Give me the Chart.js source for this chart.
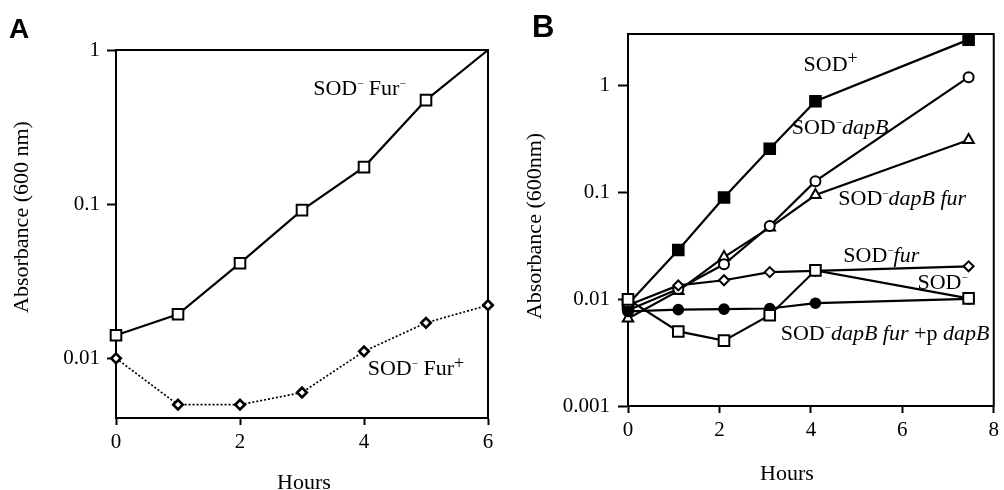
<!DOCTYPE html>
<html><head><meta charset="utf-8">
<script src="https://cdn.jsdelivr.net/npm/chart.js@4.4.0/dist/chart.umd.min.js"></script>
<style>
html,body{margin:0;padding:0;background:#fff;}
#wrap{position:relative;width:1004px;height:490px;overflow:hidden;background:#fff;}
canvas{position:absolute;top:0;}
</style></head><body>
<div id="wrap">
<canvas id="cA" width="502" height="490" style="left:0px"></canvas>
<canvas id="cB" width="502" height="490" style="left:502px"></canvas>
</div>
<script>
// ---------- Panel A data ----------
const hoursA = [0, 1, 2, 3, 4, 5, 6];
const sodFurMinus = [0.0141, 0.0193, 0.0414, 0.0914, 0.174, 0.473, 1.0];
const sodFurPlus = [0.0100, 0.0050, 0.0050, 0.0060, 0.0111, 0.0170, 0.0221];
const xTicksA = [0, 2, 4, 6];
const yTicksA = [0.01, 0.1, 1];

// ---------- Panel B data ----------
const hoursB = [0, 1.1, 2.1, 3.1, 4.1, 7.45];
const sodPlus = [0.009, 0.029, 0.090, 0.258, 0.72, 2.72];
const sodDapB = [0.0079, 0.0125, 0.0213, 0.0487, 0.128, 1.21];
const sodDapBFur = [0.0066, 0.0120, 0.0249, 0.047, 0.095, 0.312];
const sodFur = [0.0088, 0.0135, 0.0151, 0.0180, 0.0185, 0.0204];
const sodMinus = [0.0100, 0.0050, 0.0041, 0.0071, 0.0187, 0.0102];
const sodDapBFurP = [0.0077, 0.0080, 0.0081, 0.0082, 0.0092, 0.0101];
const xTicksB = [0, 2, 4, 6, 8];
const yTicksB = [0.001, 0.01, 0.1, 1];

const SERIF = '"Liberation Serif", "Times New Roman", serif';
const SANS = '"Liberation Sans", Arial, sans-serif';

function pts(xs, ys) { return xs.map((x, i) => ({x: x, y: ys[i]})); }

function richText(ctx, x, y, segs, size) {
  let cx = x;
  for (const s of segs) {
    const fs = s.sup ? Math.round(size * (s.k || 0.68)) : size;
    ctx.font = (s.it ? 'italic ' : '') + fs + 'px ' + SERIF;
    const dy = s.sup ? -size * (s.up || 0.36) : 0;
    ctx.fillText(s.t, cx, y + dy);
    cx += ctx.measureText(s.t).width;
  }
}

const decor = {
  id: 'decor',
  beforeDatasetsDraw(chart, args, o) {
    const {ctx, chartArea: a} = chart;
    ctx.save();
    ctx.strokeStyle = '#000';
    ctx.lineWidth = 2;
    ctx.beginPath();
    ctx.moveTo(a.left - 1, a.top);
    ctx.lineTo(a.right, a.top);
    ctx.lineTo(a.right, a.bottom + 1);
    ctx.stroke();
    ctx.restore();
  },
  afterDraw(chart, args, o) {
    const {ctx, scales} = chart;
    ctx.save();
    ctx.fillStyle = '#000';
    ctx.textBaseline = 'alphabetic';
    ctx.textAlign = 'left';
    for (const L of o.labels) {
      richText(ctx, scales.x.getPixelForValue(L.x), scales.y.getPixelForValue(L.y), L.segs, 22);
    }
    ctx.font = 'bold ' + o.letterSize + 'px ' + SANS;
    ctx.fillText(o.letter, o.letterX, o.letterY);
    ctx.font = '22px ' + SERIF;
    ctx.textAlign = 'center';
    ctx.fillText(o.xTitle, o.xTitleX, o.xTitleY);
    ctx.translate(o.yTitleX, o.yTitleY);
    ctx.rotate(-Math.PI / 2);
    ctx.fillText(o.yTitle, 0, 0);
    ctx.restore();
  }
};

function makeChart(id, datasets, cfg) {
  return new Chart(document.getElementById(id), {
    type: 'line',
    data: {datasets: datasets},
    plugins: [decor],
    options: {
      responsive: false,
      animation: false,
      events: [],
      layout: {padding: {left: 0, top: cfg.top, right: cfg.right, bottom: 0}},
      elements: {line: {tension: 0}},
      plugins: {legend: {display: false}, tooltip: {enabled: false}, decor: cfg.decor},
      scales: {
        x: {
          type: 'linear', min: cfg.xMin, max: cfg.xMax,
          afterBuildTicks: s => { s.ticks = cfg.xTicks.map(v => ({value: v})); },
          afterFit: s => { s.height = cfg.xHeight; },
          ticks: {font: {family: SERIF, size: 21}, color: '#000', padding: 5, maxRotation: 0},
          grid: {display: true, drawOnChartArea: false, drawTicks: true, tickLength: 7, tickColor: '#000', tickWidth: 2},
          border: {display: true, color: '#000', width: 2}
        },
        y: {
          type: 'logarithmic', min: cfg.yMin, max: cfg.yMax,
          afterBuildTicks: s => { s.ticks = cfg.yTicks.map(v => ({value: v})); },
          afterFit: s => { s.width = cfg.yWidth; },
          ticks: {font: {family: SERIF, size: 21}, color: '#000', padding: cfg.yPad, callback: v => String(v)},
          grid: {display: true, drawOnChartArea: false, drawTicks: true, tickLength: cfg.yTickLen, tickColor: '#000', tickWidth: 2},
          border: {display: true, color: '#000', width: 2}
        }
      }
    }
  });
}

const minus = {t: '\u2212', sup: true, k: 0.5, up: 0.38};
const plus = {t: '+', sup: true, k: 0.8, up: 0.3};

makeChart('cA', [
  {data: pts(hoursA, sodFurMinus), borderColor: '#000', borderWidth: 2.2, pointStyle: 'rect',
   pointRadius: [7.5, 7.5, 7.5, 7.5, 7.5, 7.5, 0], pointBackgroundColor: '#fff', pointBorderColor: '#000', pointBorderWidth: 2, clip: false},
  {data: pts(hoursA, sodFurPlus), borderColor: '#000', borderWidth: 1.7, borderDash: [2, 2], pointStyle: 'rectRot',
   pointRadius: 4.8, pointBackgroundColor: '#fff', pointBorderColor: '#000', pointBorderWidth: 2.6, clip: false}
], {
  top: 50, right: 14, xHeight: 72, yWidth: 116, yPad: 7, yTickLen: 9,
  xMin: 0, xMax: 6, xTicks: xTicksA, yMin: 0.0041, yMax: 1, yTicks: yTicksA,
  decor: {
    letter: 'A', letterSize: 28, letterX: 9, letterY: 38,
    xTitle: 'Hours', xTitleX: 304, xTitleY: 489,
    yTitle: 'Absorbance (600 nm)', yTitleX: 28, yTitleY: 217,
    labels: [
      {x: 3.18, y: 0.51, segs: [{t: 'SOD'}, minus, {t: ' Fur'}, minus]},
      {x: 4.06, y: 0.00776, segs: [{t: 'SOD'}, minus, {t: ' Fur'}, plus]}
    ]
  }
});

const open = {pointBackgroundColor: '#fff', pointBorderColor: '#000', pointBorderWidth: 2, borderColor: '#000', borderWidth: 2.2, clip: false};
const filled = {pointBackgroundColor: '#000', pointBorderColor: '#000', pointBorderWidth: 2, borderColor: '#000', borderWidth: 2.2, clip: false};

makeChart('cB', [
  Object.assign({data: pts(hoursB, sodMinus), pointStyle: 'rect', pointRadius: 7.5}, open),
  Object.assign({data: pts(hoursB, sodDapBFurP), pointStyle: 'circle', pointRadius: 4.8}, filled),
  Object.assign({data: pts(hoursB, sodFur), pointStyle: 'rectRot', pointRadius: 5}, open),
  Object.assign({data: pts(hoursB, sodDapB), pointStyle: 'circle', pointRadius: 5}, open),
  Object.assign({data: pts(hoursB, sodDapBFur), pointStyle: 'triangle', pointRadius: 6}, open),
  Object.assign({data: pts(hoursB, sodPlus), pointStyle: 'rect', pointRadius: 7.5}, filled)
], {
  top: 34, right: 7, xHeight: 84, yWidth: 126, yPad: 8, yTickLen: 10,
  xMin: 0, xMax: 8, xTicks: xTicksB, yMin: 0.001, yMax: 3.07, yTicks: yTicksB,
  decor: {
    letter: 'B', letterSize: 31, letterX: 30, letterY: 37,
    xTitle: 'Hours', xTitleX: 285, xTitleY: 480,
    yTitle: 'Absorbance (600nm)', yTitleX: 39, yTitleY: 226,
    labels: [
      {x: 3.84, y: 1.38, segs: [{t: 'SOD'}, plus]},
      {x: 3.58, y: 0.355, segs: [{t: 'SOD'}, minus, {t: 'dapB', it: true}]},
      {x: 4.6, y: 0.0767, segs: [{t: 'SOD'}, minus, {t: 'dapB fur', it: true}]},
      {x: 4.71, y: 0.0224, segs: [{t: 'SOD'}, minus, {t: 'fur', it: true}]},
      {x: 6.33, y: 0.0125, segs: [{t: 'SOD'}, minus]},
      {x: 3.34, y: 0.00417, segs: [{t: 'SOD'}, minus, {t: 'dapB fur', it: true}, {t: ' +p '}, {t: 'dapB', it: true}]}
    ]
  }
});
</script>
</body></html>
